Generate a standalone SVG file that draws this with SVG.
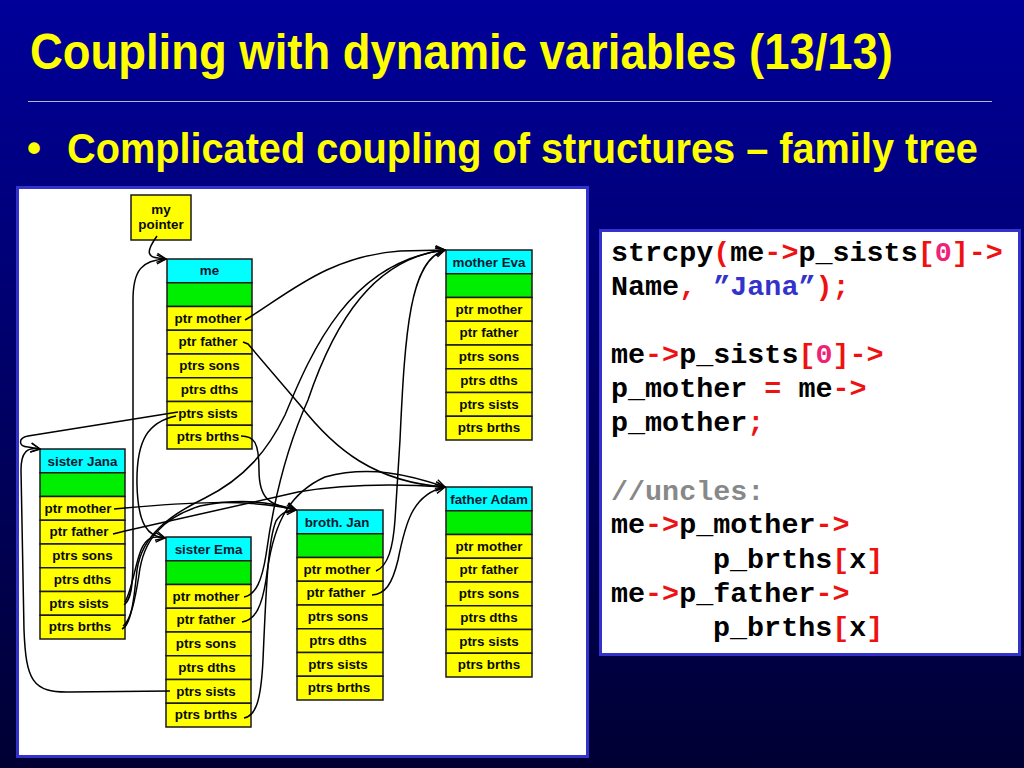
<svg xmlns="http://www.w3.org/2000/svg" width="1024" height="768" viewBox="0 0 1024 768">
<defs>
<linearGradient id="bg" x1="0" y1="0" x2="0" y2="1">
<stop offset="0" stop-color="#00009a"/>
<stop offset="1" stop-color="#000033"/>
</linearGradient>
<marker id="arr" viewBox="0 0 12 12" refX="11" refY="6" markerWidth="11" markerHeight="11" markerUnits="userSpaceOnUse" orient="auto">
<path d="M1,1 L11,6 L1,11" fill="none" stroke="#000" stroke-width="1.5"/>
</marker>
<style>
.title{font-family:"Liberation Sans",Arial,sans-serif;font-weight:bold;fill:#ffff00}
.cell{stroke:#1a1a1a;stroke-width:1.5}
.hd{fill:#00ffff}.gr{fill:#00ee00}.ye{fill:#ffff00}
.lbl{font-family:"Liberation Sans",Arial,sans-serif;font-weight:bold;font-size:13.4px;fill:#0a0a0a;text-anchor:middle}
.hl{fill:#0a1a30}
.conn path{fill:none;stroke:#000;stroke-width:1.5;marker-end:url(#arr)}
.code{font-family:"Liberation Mono","Courier New",monospace;font-weight:bold;font-size:28.4px;fill:#000}
.r{fill:#ee1111}.p{fill:#ee2277}.b{fill:#3333cc}.g{fill:#888888}
</style>
</defs>
<rect x="0" y="0" width="1024" height="768" fill="url(#bg)"/>
<text class="title" x="30" y="69" font-size="50" textLength="863" lengthAdjust="spacingAndGlyphs">Coupling with dynamic variables (13/13)</text>
<line x1="28" y1="101.5" x2="992" y2="101.5" stroke="#b8b8c8" stroke-width="1.2"/>
<text class="title" x="27" y="162" font-size="40">•</text>
<text class="title" transform="translate(67,163) scale(0.945,1)" x="0" y="0" font-size="42">Complicated coupling of structures – family tree</text>

<rect x="17.5" y="187.5" width="570" height="569" fill="#ffffff" stroke="#3333cc" stroke-width="3"/>
<rect x="600.5" y="230.5" width="419" height="424" fill="#ffffff" stroke="#3333cc" stroke-width="3"/>

<g id="mypointer">
<rect class="cell ye" x="131" y="195" width="60" height="45"/>
<text class="lbl" x="161" y="214">my</text>
<text class="lbl" x="161" y="229">pointer</text>
</g>

<g id="me" transform="translate(167,259)">
<rect class="cell hd" x="0" y="0" width="85" height="23.75"/>
<rect class="cell gr" x="0" y="23.75" width="85" height="23.75"/>
<rect class="cell ye" x="0" y="47.5" width="85" height="23.75"/>
<rect class="cell ye" x="0" y="71.25" width="85" height="23.75"/>
<rect class="cell ye" x="0" y="95" width="85" height="23.75"/>
<rect class="cell ye" x="0" y="118.75" width="85" height="23.75"/>
<rect class="cell ye" x="0" y="142.5" width="85" height="23.75"/>
<rect class="cell ye" x="0" y="166.25" width="85" height="23.75"/>
<text class="lbl hl" x="42.5" y="16">me</text>
<text class="lbl" x="41" y="63.5">ptr mother</text>
<text class="lbl" x="41" y="87.3">ptr father</text>
<text class="lbl" x="42.5" y="111">ptrs sons</text>
<text class="lbl" x="42.5" y="134.8">ptrs dths</text>
<text class="lbl" x="41" y="158.5">ptrs sists</text>
<text class="lbl" x="41" y="182.3">ptrs brths</text>
</g>

<g id="motherEva" transform="translate(446,250)">
<rect class="cell hd" x="0" y="0" width="86" height="23.75"/>
<rect class="cell gr" x="0" y="23.75" width="86" height="23.75"/>
<rect class="cell ye" x="0" y="47.5" width="86" height="23.75"/>
<rect class="cell ye" x="0" y="71.25" width="86" height="23.75"/>
<rect class="cell ye" x="0" y="95" width="86" height="23.75"/>
<rect class="cell ye" x="0" y="118.75" width="86" height="23.75"/>
<rect class="cell ye" x="0" y="142.5" width="86" height="23.75"/>
<rect class="cell ye" x="0" y="166.25" width="86" height="23.75"/>
<text class="lbl hl" x="43" y="16.5">mother Eva</text>
<text class="lbl" x="43" y="63.5">ptr mother</text>
<text class="lbl" x="43" y="87.3">ptr father</text>
<text class="lbl" x="43" y="111">ptrs sons</text>
<text class="lbl" x="43" y="134.8">ptrs dths</text>
<text class="lbl" x="43" y="158.5">ptrs sists</text>
<text class="lbl" x="43" y="182.3">ptrs brths</text>
</g>

<g id="sisterJana" transform="translate(40,449)">
<rect class="cell hd" x="0" y="0" width="85" height="23.75"/>
<rect class="cell gr" x="0" y="23.75" width="85" height="23.75"/>
<rect class="cell ye" x="0" y="47.5" width="85" height="23.75"/>
<rect class="cell ye" x="0" y="71.25" width="85" height="23.75"/>
<rect class="cell ye" x="0" y="95" width="85" height="23.75"/>
<rect class="cell ye" x="0" y="118.75" width="85" height="23.75"/>
<rect class="cell ye" x="0" y="142.5" width="85" height="23.75"/>
<rect class="cell ye" x="0" y="166.25" width="85" height="23.75"/>
<text class="lbl hl" x="42.5" y="16.5">sister Jana</text>
<text class="lbl" x="38" y="63.5">ptr mother</text>
<text class="lbl" x="39" y="87.3">ptr father</text>
<text class="lbl" x="42.5" y="111">ptrs sons</text>
<text class="lbl" x="42.5" y="134.8">ptrs dths</text>
<text class="lbl" x="39" y="158.5">ptrs sists</text>
<text class="lbl" x="40" y="182.3">ptrs brths</text>
</g>

<g id="sisterEma" transform="translate(166,537)">
<rect class="cell hd" x="0" y="0" width="85" height="23.75"/>
<rect class="cell gr" x="0" y="23.75" width="85" height="23.75"/>
<rect class="cell ye" x="0" y="47.5" width="85" height="23.75"/>
<rect class="cell ye" x="0" y="71.25" width="85" height="23.75"/>
<rect class="cell ye" x="0" y="95" width="85" height="23.75"/>
<rect class="cell ye" x="0" y="118.75" width="85" height="23.75"/>
<rect class="cell ye" x="0" y="142.5" width="85" height="23.75"/>
<rect class="cell ye" x="0" y="166.25" width="85" height="23.75"/>
<text class="lbl hl" x="42.5" y="16.5">sister Ema</text>
<text class="lbl" x="40" y="63.5">ptr mother</text>
<text class="lbl" x="40" y="87.3">ptr father</text>
<text class="lbl" x="40" y="111">ptrs sons</text>
<text class="lbl" x="41" y="134.8">ptrs dths</text>
<text class="lbl" x="40" y="158.5">ptrs sists</text>
<text class="lbl" x="40" y="182.3">ptrs brths</text>
</g>

<g id="brothJan" transform="translate(297,510)">
<rect class="cell hd" x="0" y="0" width="86" height="23.75"/>
<rect class="cell gr" x="0" y="23.75" width="86" height="23.75"/>
<rect class="cell ye" x="0" y="47.5" width="86" height="23.75"/>
<rect class="cell ye" x="0" y="71.25" width="86" height="23.75"/>
<rect class="cell ye" x="0" y="95" width="86" height="23.75"/>
<rect class="cell ye" x="0" y="118.75" width="86" height="23.75"/>
<rect class="cell ye" x="0" y="142.5" width="86" height="23.75"/>
<rect class="cell ye" x="0" y="166.25" width="86" height="23.75"/>
<text class="lbl hl" x="40" y="16.5">broth. Jan</text>
<text class="lbl" x="40" y="63.5">ptr mother</text>
<text class="lbl" x="39" y="87.3">ptr father</text>
<text class="lbl" x="41" y="111">ptrs sons</text>
<text class="lbl" x="41" y="134.8">ptrs dths</text>
<text class="lbl" x="41" y="158.5">ptrs sists</text>
<text class="lbl" x="42" y="182.3">ptrs brths</text>
</g>

<g id="fatherAdam" transform="translate(446,487)">
<rect class="cell hd" x="0" y="0" width="86" height="23.75"/>
<rect class="cell gr" x="0" y="23.75" width="86" height="23.75"/>
<rect class="cell ye" x="0" y="47.5" width="86" height="23.75"/>
<rect class="cell ye" x="0" y="71.25" width="86" height="23.75"/>
<rect class="cell ye" x="0" y="95" width="86" height="23.75"/>
<rect class="cell ye" x="0" y="118.75" width="86" height="23.75"/>
<rect class="cell ye" x="0" y="142.5" width="86" height="23.75"/>
<rect class="cell ye" x="0" y="166.25" width="86" height="23.75"/>
<text class="lbl hl" x="43" y="16.5">father Adam</text>
<text class="lbl" x="43" y="63.5">ptr mother</text>
<text class="lbl" x="43" y="87.3">ptr father</text>
<text class="lbl" x="43" y="111">ptrs sons</text>
<text class="lbl" x="43" y="134.8">ptrs dths</text>
<text class="lbl" x="43" y="158.5">ptrs sists</text>
<text class="lbl" x="43" y="182.3">ptrs brths</text>
</g>

<g id="connectors" class="conn">
<path d="M157,236 C147,250 146,257 158,258 L166,259"/>
<path d="M245,320 L250,317 C290,292 330,256 400,251 L445,250"/>
<path d="M243,342 L248,344 L300,405 C335,450 375,482 445,487"/>
<path d="M178,412 L28,436 C18,438 18,446 28,447 L40,449"/>
<path d="M176,416 C148,422 136,440 137,485 C138,525 148,537 165,538"/>
<path d="M241,436 C254,436 259,442 259,470 C259,498 268,505 296,510"/>
<path d="M170,691 L70,692 C32,693 26,680 24,630 L21,470 C21,452 27,447 40,449"/>
<path d="M124,605 C131,600 133,585 133,560 L133,300 C133,270 142,260 166,259"/>
<path d="M125,602 C132,590 135,565 141,550 C146,538 153,535 165,538"/>
<path d="M122,629 C131,625 134,600 137,570 C142,535 170,515 205,498 C245,478 268,450 285,415 C312,350 350,262 445,250"/>
<path d="M123,626 C131,620 135,600 139,575 C143,540 162,518 200,506 C240,498 272,502 296,510"/>
<path d="M114,509 L125,508 C180,503 250,498 296,510"/>
<path d="M113,534 L125,531 L298,492 C345,484 400,484 445,487"/>
<path d="M244,597 C256,595 262,580 266,555 C275,490 290,440 308,400 C335,320 375,258 445,250"/>
<path d="M242,622 C256,620 262,605 266,580 C272,530 285,495 325,477 C370,465 410,475 445,487"/>
<path d="M244,718 C256,716 261,700 263,660 C266,590 268,540 276,521 C282,512 288,510 296,510"/>
<path d="M376,571 C388,566 393,548 395,520 L400,440 C405,330 410,260 445,250"/>
<path d="M372,595 C385,594 392,585 398,560 C405,525 412,494 445,487"/>
</g>

<g id="code" class="code">
<text x="611" y="261">strcpy<tspan class="r">(</tspan>me<tspan class="r">-&gt;</tspan>p_sists<tspan class="r">[</tspan><tspan class="p">0</tspan><tspan class="r">]-&gt;</tspan></text>
<text x="611" y="295">Name<tspan class="r">,</tspan> <tspan class="b">”Jana”</tspan><tspan class="r">);</tspan></text>
<text x="611" y="363">me<tspan class="r">-&gt;</tspan>p_sists<tspan class="r">[</tspan><tspan class="p">0</tspan><tspan class="r">]-&gt;</tspan></text>
<text x="611" y="397">p_mother <tspan class="r">=</tspan> me<tspan class="r">-&gt;</tspan></text>
<text x="611" y="431">p_mother<tspan class="r">;</tspan></text>
<text x="611" y="500" class="g">//uncles:</text>
<text x="611" y="533">me<tspan class="r">-&gt;</tspan>p_mother<tspan class="r">-&gt;</tspan></text>
<text x="713" y="568">p_brths<tspan class="r">[</tspan>x<tspan class="r">]</tspan></text>
<text x="611" y="602">me<tspan class="r">-&gt;</tspan>p_father<tspan class="r">-&gt;</tspan></text>
<text x="713" y="636">p_brths<tspan class="r">[</tspan>x<tspan class="r">]</tspan></text>
</g>
</svg>
